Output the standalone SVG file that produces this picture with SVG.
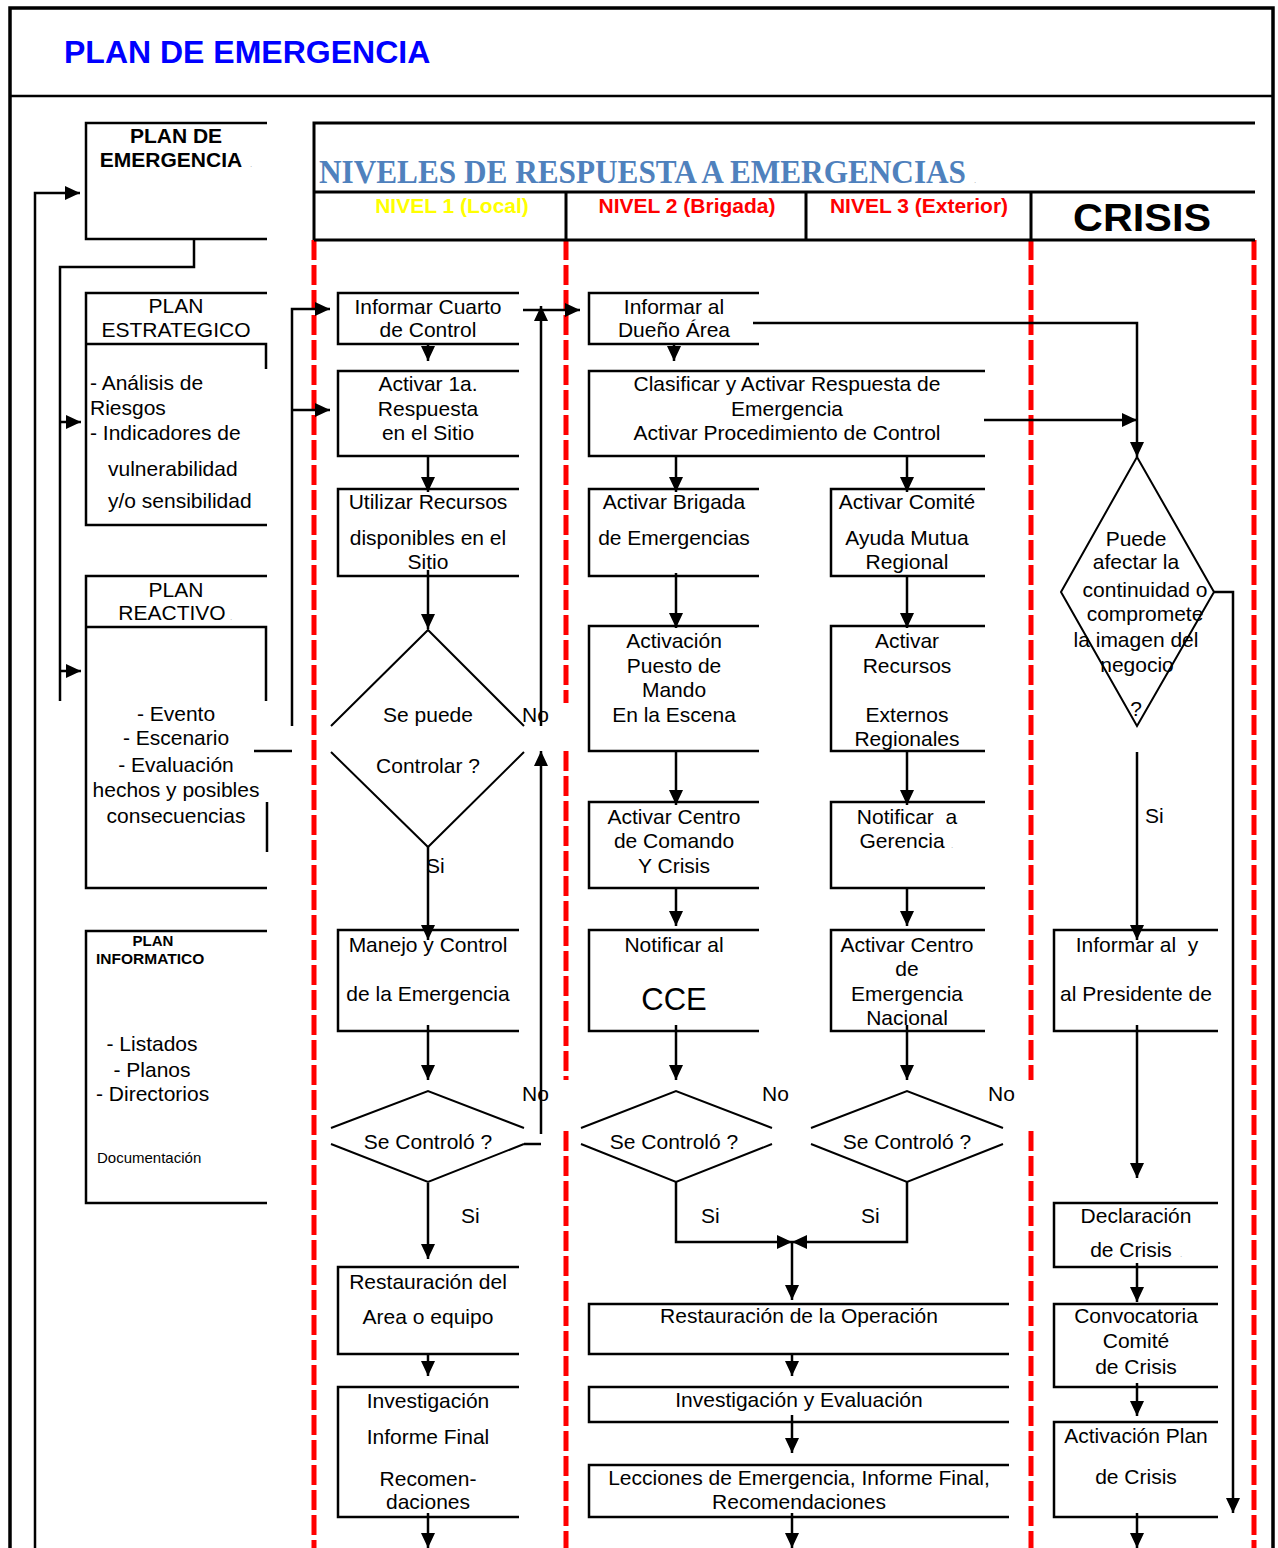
<svg xmlns="http://www.w3.org/2000/svg" width="1278" height="1548" viewBox="0 0 1278 1548">
<defs>
<marker id="ah" markerUnits="userSpaceOnUse" markerWidth="15" markerHeight="14" refX="15" refY="7" orient="auto">
<path d="M0,0 L15,7 L0,14 z" fill="#000"/>
</marker>
<style>
text{font-family:"Liberation Sans",Arial,sans-serif;font-size:21px;fill:#000}
.c{text-anchor:middle}
.b{font-weight:bold}
.box{fill:none;stroke:#000;stroke-width:2.5}
.dia{fill:none;stroke:#000;stroke-width:2}
.con path{fill:none;stroke:#000;stroke-width:2.5}
.arr{marker-end:url(#ah)}
.red{stroke:#ff0000;stroke-width:5;stroke-dasharray:20 5;fill:none}
.dot{font-size:8px;fill:#aaa}
.pre{white-space:pre}
</style>
</defs>
<rect width="1278" height="1548" fill="#fff"/>
<g id="frame">
<path d="M10,1548 V8 H1273 V1548" fill="none" stroke="#000" stroke-width="3.5"/>
<path d="M10,96 H1273" stroke="#000" stroke-width="2.5"/>
<text x="64" y="63" class="b" style="font-size:32px;fill:#0000ff">PLAN DE EMERGENCIA</text>
</g>
<g id="swimlanes">
<path class="red" d="M314,240 V1548 M566,240 V703 M566,751 V1080 M566,1131 V1548 M1031,240 V1080 M1031,1131 V1548 M1254,240 V1548"/>
</g>
<g id="header">
<path d="M1255,123 H314 V240 M314,192 H1255 M314,240 H1255 M566,192 V240 M806,192 V240 M1031,192 V240" fill="none" stroke="#000" stroke-width="3"/>
<text x="319" y="183" textLength="647" lengthAdjust="spacingAndGlyphs" style="font-family:'Liberation Serif',serif;font-weight:bold;font-size:33px;fill:#4f81bd">NIVELES DE RESPUESTA A EMERGENCIAS</text>
<text x="974" y="183" class="dot">.</text>
<text x="452" y="213" class="c b" style="fill:#ffff00">NIVEL 1 (Local)</text>
<text x="687" y="213" class="c b" style="fill:#ff0000">NIVEL 2 (Brigada)</text>
<text x="919" y="213" class="c b" style="fill:#ff0000">NIVEL 3 (Exterior)</text>
<text x="1142" y="231" class="c b" textLength="138" lengthAdjust="spacingAndGlyphs" style="font-size:38px">CRISIS</text>
</g>
<g id="plan-emergencia">
<path class="box" d="M267,123 H86 V239 H267"/>
<text x="176" y="143" class="c b" style="font-size:21px">PLAN DE</text>
<text x="171" y="167" class="c b" style="font-size:21px">EMERGENCIA</text>
<text x="250" y="167" class="dot">.</text>
</g>
<g id="plan-estrategico">
<path class="box" d="M267,293 H86 V525 H267 M86,344 H266 V369"/>
<text x="176" y="313" class="c">PLAN</text>
<text x="176" y="337" class="c">ESTRATEGICO</text>
<text x="90" y="390">- Análisis de</text>
<text x="90" y="415">Riesgos</text>
<text x="90" y="440">- Indicadores de</text>
<text x="108" y="476">vulnerabilidad</text>
<text x="108" y="508">y/o sensibilidad</text>
</g>
<g id="plan-reactivo">
<path class="box" d="M267,576 H86 V888 H267 M86,627 H266 V701 M267,802 V852"/>
<text x="176" y="597" class="c">PLAN</text>
<text x="172" y="620" class="c">REACTIVO</text>
<text x="230" y="620" class="dot">.</text>
<text x="176" y="721" class="c">- Evento</text>
<text x="176" y="745" class="c">- Escenario</text>
<text x="176" y="772" class="c">- Evaluación</text>
<text x="176" y="797" class="c">hechos y posibles</text>
<text x="176" y="823" class="c">consecuencias</text>
</g>
<g id="plan-informatico">
<path class="box" d="M267,931 H86 V1203 H267"/>
<text x="153" y="946" class="c b" style="font-size:15px">PLAN</text>
<text x="96" y="964" class="b" style="font-size:15.5px">INFORMATICO</text>
<text x="152" y="1051" class="c">- Listados</text>
<text x="152" y="1077" class="c">- Planos</text>
<text x="96" y="1101">- Directorios</text>
<text x="97" y="1163" style="font-size:15px">Documentación</text>
</g>
<g id="n1-informar-cuarto">
<path class="box" d="M519,293 H338 V344 H519"/>
<text x="428" y="314" class="c">Informar Cuarto</text>
<text x="428" y="337" class="c">de Control</text>
</g>
<g id="n2-activar-1a">
<path class="box" d="M519,371 H338 V456 H519"/>
<text x="428" y="391" class="c">Activar 1a.</text>
<text x="428" y="416" class="c">Respuesta</text>
<text x="428" y="440" class="c">en el Sitio</text>
</g>
<g id="n3-utilizar">
<path class="box" d="M519,489 H338 V576 H519"/>
<text x="428" y="509" class="c">Utilizar Recursos</text>
<text x="428" y="545" class="c">disponibles en el</text>
<text x="428" y="569" class="c">Sitio</text>
</g>
<g id="d1-se-puede">
<path class="dia" d="M331,726 L428,630 L524,726 M331,752 L428,847 L524,752"/>
<text x="428" y="722" class="c">Se puede</text>
<text x="428" y="773" class="c">Controlar ?</text>
</g>
<g id="n4-manejo">
<path class="box" d="M519,930 H338 V1031 H519"/>
<text x="428" y="952" class="c">Manejo y Control</text>
<text x="428" y="1001" class="c">de la Emergencia</text>
</g>
<g id="d2-se-controlo">
<path class="dia" d="M331,1128 L428,1091 L524,1128 M331,1144 L428,1182 L524,1144"/>
<text x="428" y="1149" class="c">Se Controló ?</text>
</g>
<g id="n5-restauracion">
<path class="box" d="M519,1267 H338 V1354 H519"/>
<text x="428" y="1289" class="c">Restauración del</text>
<text x="428" y="1324" class="c">Area o equipo</text>
</g>
<g id="n6-investigacion">
<path class="box" d="M519,1387 H338 V1517 H519"/>
<text x="428" y="1408" class="c">Investigación</text>
<text x="428" y="1444" class="c">Informe Final</text>
<text x="428" y="1486" class="c">Recomen-</text>
<text x="428" y="1509" class="c">daciones</text>
</g>
<g id="m1-informar-dueno">
<path class="box" d="M759,293 H589 V344 H759"/>
<text x="674" y="314" class="c">Informar al</text>
<text x="674" y="337" class="c">Dueño Área</text>
</g>
<g id="m2-clasificar">
<path class="box" d="M985,371 H589 V456 H985"/>
<text x="787" y="391" class="c">Clasificar y Activar Respuesta de</text>
<text x="787" y="416" class="c">Emergencia</text>
<text x="787" y="440" class="c">Activar Procedimiento de Control</text>
</g>
<g id="m3-brigada">
<path class="box" d="M759,489 H589 V576 H759"/>
<text x="674" y="509" class="c">Activar Brigada</text>
<text x="674" y="545" class="c">de Emergencias</text>
</g>
<g id="m4-puesto-mando">
<path class="box" d="M759,626 H589 V751 H759"/>
<text x="674" y="648" class="c">Activación</text>
<text x="674" y="673" class="c">Puesto de</text>
<text x="674" y="697" class="c">Mando</text>
<text x="674" y="722" class="c">En la Escena</text>
</g>
<g id="m5-centro-comando">
<path class="box" d="M759,802 H589 V888 H759"/>
<text x="674" y="824" class="c">Activar Centro</text>
<text x="674" y="848" class="c">de Comando</text>
<text x="674" y="873" class="c">Y Crisis</text>
</g>
<g id="m6-notificar-cce">
<path class="box" d="M759,930 H589 V1031 H759"/>
<text x="674" y="952" class="c">Notificar al</text>
<text x="674" y="1010" class="c" style="font-size:31px">CCE</text>
</g>
<g id="d3-se-controlo">
<path class="dia" d="M581,1128 L676,1091 L772,1128 M581,1144 L676,1182 L772,1144"/>
<text x="674" y="1149" class="c">Se Controló ?</text>
</g>
<g id="x1-comite">
<path class="box" d="M985,489 H831 V576 H985"/>
<text x="907" y="509" class="c">Activar Comité</text>
<text x="907" y="545" class="c">Ayuda Mutua</text>
<text x="907" y="569" class="c">Regional</text>
</g>
<g id="x2-recursos">
<path class="box" d="M985,626 H831 V751 H985"/>
<text x="907" y="648" class="c">Activar</text>
<text x="907" y="673" class="c">Recursos</text>
<text x="907" y="722" class="c">Externos</text>
<text x="907" y="746" class="c">Regionales</text>
</g>
<g id="x3-gerencia">
<path class="box" d="M985,802 H831 V888 H985"/>
<text x="907" y="824" class="c pre">Notificar  a</text>
<text x="902" y="848" class="c">Gerencia</text>
<text x="951" y="848" class="dot">.</text>
</g>
<g id="x4-centro-emergencia">
<path class="box" d="M985,930 H831 V1031 H985"/>
<text x="907" y="952" class="c">Activar Centro</text>
<text x="907" y="976" class="c">de</text>
<text x="907" y="1001" class="c">Emergencia</text>
<text x="907" y="1025" class="c">Nacional</text>
</g>
<g id="d4-se-controlo">
<path class="dia" d="M811,1128 L907,1091 L1003,1128 M811,1144 L907,1182 L1003,1144"/>
<text x="907" y="1149" class="c">Se Controló ?</text>
</g>
<g id="m7-restauracion-operacion">
<path class="box" d="M1009,1304 H589 V1354 H1009"/>
<text x="799" y="1323" class="c">Restauración de la Operación</text>
</g>
<g id="m8-investigacion-evaluacion">
<path class="box" d="M1009,1387 H589 V1422 H1009"/>
<text x="799" y="1407" class="c">Investigación y Evaluación</text>
</g>
<g id="m9-lecciones">
<path class="box" d="M1009,1465 H589 V1517 H1009"/>
<text x="799" y="1485" class="c">Lecciones de Emergencia, Informe Final,</text>
<text x="799" y="1509" class="c">Recomendaciones</text>
</g>
<g id="dc-puede-afectar">
<path class="dia" d="M1137,457 L1214,592 L1137,726 L1061,592 Z"/>
<text x="1136" y="546" class="c">Puede</text>
<text x="1136" y="569" class="c">afectar la</text>
<text x="1145" y="597" class="c">continuidad o</text>
<text x="1145" y="621" class="c">compromete</text>
<text x="1136" y="647" class="c">la imagen del</text>
<text x="1137" y="672" class="c">negocio</text>
<text x="1136" y="716" class="c">?</text>
</g>
<g id="c1-informar-presidente">
<path class="box" d="M1218,930 H1054 V1031 H1218"/>
<text x="1137" y="952" class="c pre">Informar al  y</text>
<text x="1136" y="1001" class="c">al Presidente de</text>
</g>
<g id="c2-declaracion">
<path class="box" d="M1218,1203 H1054 V1267 H1218"/>
<text x="1136" y="1223" class="c">Declaración</text>
<text x="1131" y="1257" class="c">de Crisis</text>
<text x="1180" y="1257" class="dot">.</text>
</g>
<g id="c3-convocatoria">
<path class="box" d="M1218,1304 H1054 V1387 H1218"/>
<text x="1136" y="1323" class="c">Convocatoria</text>
<text x="1136" y="1348" class="c">Comité</text>
<text x="1136" y="1374" class="c">de Crisis</text>
</g>
<g id="c4-activacion-plan">
<path class="box" d="M1218,1422 H1054 V1517 H1218"/>
<text x="1136" y="1443" class="c">Activación Plan</text>
<text x="1136" y="1484" class="c">de Crisis</text>
</g>
<g id="connectors" class="con">
<path class="arr" d="M35,1548 V193 H80"/>
<path d="M194,239 V267 H60 V701"/>
<path class="arr" d="M60,422 H81"/>
<path class="arr" d="M60,671 H81"/>
<path d="M254,751 H292"/>
<path class="arr" d="M292,726 V309 H330"/>
<path class="arr" d="M292,410 H330"/>
<path class="arr" d="M428,344 V361"/>
<path class="arr" d="M428,456 V492"/>
<path class="arr" d="M428,570 V629"/>
<path class="arr" d="M428,847 V940"/>
<path class="arr" d="M428,1025 V1080"/>
<path class="arr" d="M428,1183 V1259"/>
<path class="arr" d="M428,1354 V1376"/>
<path class="arr" d="M428,1513 V1548"/>
<path class="arr" d="M541,726 V306"/>
<path class="arr" d="M523,310 H580"/>
<path d="M524,1144 H541"/>
<path class="arr" d="M541,1134 V751"/>
<path class="arr" d="M674,344 V361"/>
<path class="arr" d="M676,456 V492"/>
<path class="arr" d="M907,456 V492"/>
<path class="arr" d="M676,573 V628"/>
<path class="arr" d="M907,576 V628"/>
<path class="arr" d="M676,751 V805"/>
<path class="arr" d="M907,751 V805"/>
<path class="arr" d="M676,888 V926"/>
<path class="arr" d="M907,888 V926"/>
<path class="arr" d="M676,1025 V1080"/>
<path class="arr" d="M907,1025 V1080"/>
<path class="arr" d="M676,1182 V1242 H792"/>
<path class="arr" d="M907,1182 V1242 H792"/>
<path class="arr" d="M792,1242 V1300"/>
<path class="arr" d="M792,1354 V1376"/>
<path class="arr" d="M792,1415 V1453"/>
<path class="arr" d="M792,1513 V1548"/>
<path class="arr" d="M753,323 H1137 V457"/>
<path class="arr" d="M984,420 H1137"/>
<path class="arr" d="M1214,592 H1233 V1513"/>
<path class="arr" d="M1137,752 V940"/>
<path class="arr" d="M1137,1025 V1178"/>
<path class="arr" d="M1137,1263 V1302"/>
<path class="arr" d="M1137,1383 V1416"/>
<path class="arr" d="M1137,1513 V1548"/>
</g>
<g id="labels">
<text x="522" y="722">No</text>
<text x="426" y="873">Si</text>
<text x="522" y="1101">No</text>
<text x="461" y="1223">Si</text>
<text x="762" y="1101">No</text>
<text x="988" y="1101">No</text>
<text x="701" y="1223">Si</text>
<text x="861" y="1223">Si</text>
<text x="1145" y="823">Si</text>
</g>
</svg>
